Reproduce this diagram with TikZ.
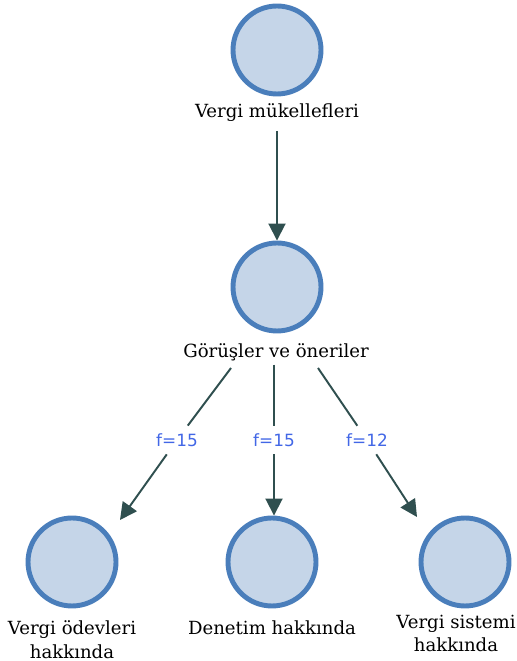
\documentclass[tikz,border=0pt]{standalone}
\usepackage{fontspec}
\setmainfont{DejaVu Serif}
\newfontfamily\edgefont{DejaVu Sans}
\usetikzlibrary{arrows.meta,positioning}
\definecolor{ballfill}{RGB}{197,213,232}
\definecolor{balledge}{RGB}{74,126,187}
\definecolor{linkcol}{RGB}{47,79,79}
\definecolor{freqcol}{RGB}{66,103,230}

\begin{document}
\begin{tikzpicture}[
	ball/.style={circle,fill=ballfill,draw=balledge,line width=2.8pt,minimum size=1.76cm,inner sep=0pt},
	caption/.style={font=\fontsize{10.3}{13.6}\selectfont,align=center,inner sep=2pt},
	freq/.style={font=\edgefont\fontsize{9.6}{11}\selectfont,text=freqcol,inner sep=0.15cm},
	link/.style={draw=linkcol,line width=1.1pt},
	arr/.style={link,-{Triangle[length=0.34cm,width=0.34cm]}}]
	\useasboundingbox (0,0) rectangle (10.34,13.22);
	\node (mukellef) at (5.54,12.22)[ball] {};
	\node (mukellefl) at (5.54,10.96)[caption] {Vergi mükellefleri};
	\node (gorus) at (5.54,7.48)[ball] {};
	\node (gorusl) at (5.52,6.18)[caption] {Görüşler ve öneriler};
	\node (odev) at (1.44,1.98)[ball] {};
	\node (denetim) at (5.44,1.98)[ball] {};
	\node (sistem) at (9.30,1.98)[ball] {};
	\node (odevl) at (1.44,0.42)[caption] {Vergi ödevleri\\hakkında};
	\node (denetiml) at (5.44,0.66)[caption] {Denetim hakkında};
	\node (sisteml) at (9.12,0.55)[caption] {Vergi sistemi\\hakkında};
	\node (f1) at (3.54,4.42)[freq] {f=15};
	\node (f2) at (5.48,4.42)[freq] {f=15};
	\node (f3) at (7.34,4.42)[freq] {f=12};
	\coordinate (s1) at (4.62,5.86);
	\coordinate (s3) at (6.36,5.86);
	\coordinate (t1) at (2.40,2.82);
	\coordinate (t3) at (8.34,2.88);
	\draw[arr,shorten <=0.1cm] (mukellefl) -- (mukellef.center |- gorus.north);
	\draw[link] (s1) -- (f1);
	\draw[arr] (f1) -- (t1);
	\draw[link] (gorusl.south -| f2) -- (f2);
	\draw[arr] (f2) -- (f2 |- denetim.north);
	\draw[link] (s3) -- (f3);
	\draw[arr] (f3) -- (t3);
\end{tikzpicture}
\end{document}
